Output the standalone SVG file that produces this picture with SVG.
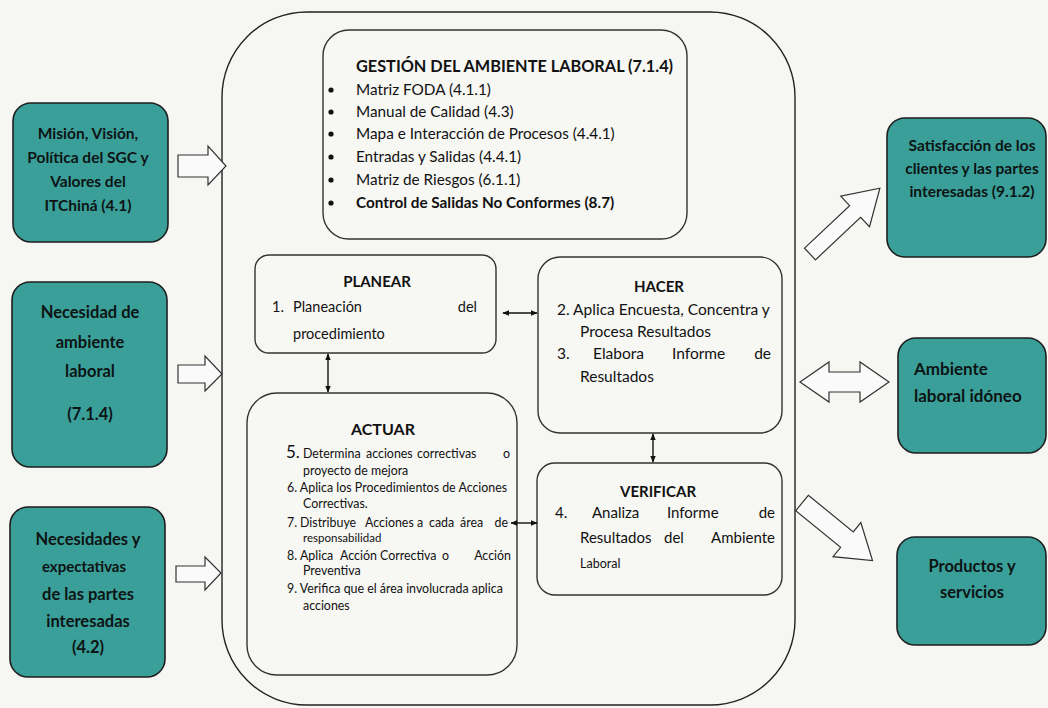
<svg xmlns="http://www.w3.org/2000/svg" width="1048" height="708" viewBox="0 0 1048 708">
<defs>
<style>
.bg{fill:#f6f6f3}
.teal{fill:#3b9f99;stroke:#1e1e1e;stroke-width:1.6}
.box{fill:#f7f7f4;stroke:#333;stroke-width:1.4}
.outer{fill:none;stroke:#222;stroke-width:1.4}
.blk{fill:#fafafa;stroke:#333;stroke-width:1.2;stroke-linejoin:miter}
.t{font-family:Lato,"Open Sans",sans-serif;fill:#111}
.tb{font-family:Lato,"Open Sans",sans-serif;font-weight:bold;fill:#111}
.tl{font-family:Lato,"Open Sans",sans-serif;font-weight:bold;fill:#0c1414;font-size:15px;text-anchor:middle}
.end{text-anchor:end}
.conn{stroke:#111;stroke-width:1.4;fill:none;marker-start:url(#ah);marker-end:url(#ah)}
</style>
<marker id="ah" viewBox="0 0 10 10" refX="9" refY="5" markerWidth="7" markerHeight="7" markerUnits="userSpaceOnUse" orient="auto-start-reverse">
<path d="M0,1 L10,5 L0,9 Z" fill="#111"/>
</marker>
</defs>
<rect class="bg" x="0" y="0" width="1048" height="708"/>

<g id="outer-frame">
<rect class="outer" x="222" y="12" width="573" height="693" rx="85" ry="85"/>
</g>

<g id="mision">
<rect class="teal" x="13" y="103" width="155" height="139" rx="18"/>
<text class="tl" x="88" style="font-size:15.5px"><tspan x="88" y="139">Misión, Visión,</tspan><tspan x="88" y="163">Política del SGC y</tspan><tspan x="88" y="187">Valores del</tspan><tspan x="88" y="211">ITChiná (4.1)</tspan></text>
</g>
<g id="necesidad">
<rect class="teal" x="12" y="282" width="155" height="185" rx="18"/>
<text class="tl" x="90" style="font-size:16.5px"><tspan x="90" y="318">Necesidad de</tspan><tspan x="90" y="348">ambiente</tspan><tspan x="90" y="377">laboral</tspan><tspan x="90" y="420">(7.1.4)</tspan></text>
</g>
<g id="necesidades">
<rect class="teal" x="10" y="507" width="155" height="170" rx="18"/>
<text class="tl" x="88" style="font-size:16.5px"><tspan x="88" y="545">Necesidades y</tspan><tspan x="84" y="572" font-size="15">expectativas</tspan><tspan x="88" y="600">de las partes</tspan><tspan x="88" y="627">interesadas</tspan><tspan x="88" y="653">(4.2)</tspan></text>
</g>

<g id="satisfaccion">
<rect class="teal" x="887" y="118" width="159" height="139" rx="18"/>
<text class="tl" x="972" style="font-size:15.5px"><tspan x="972" y="151">Satisfacción de los</tspan><tspan x="972" y="174">clientes y las partes</tspan><tspan x="972" y="197">interesadas (9.1.2)</tspan></text>
</g>
<g id="ambiente">
<rect class="teal" x="898" y="338" width="148" height="115" rx="18"/>
<text class="tl" style="text-anchor:start;font-size:17px"><tspan x="914" y="375">Ambiente</tspan><tspan x="914" y="402">laboral idóneo</tspan></text>
</g>
<g id="productos">
<rect class="teal" x="897" y="537" width="149" height="108" rx="18"/>
<text class="tl" style="font-size:16.5px"><tspan x="972" y="572">Productos y</tspan><tspan x="972" y="598">servicios</tspan></text>
</g>

<g id="gestion">
<rect class="box" x="323" y="30" width="364" height="209" rx="26"/>
<text class="tb" x="356" y="72" font-size="16.3">GESTIÓN DEL AMBIENTE LABORAL (7.1.4)</text>
<g fill="#111">
<circle cx="331" cy="90" r="2.6"/><circle cx="331" cy="112" r="2.6"/><circle cx="331" cy="134" r="2.6"/><circle cx="331" cy="157" r="2.6"/><circle cx="331" cy="180" r="2.6"/><circle cx="331" cy="203" r="2.6"/>
</g>
<text class="t" font-size="15.3"><tspan x="356" y="95">Matriz FODA (4.1.1)</tspan><tspan x="356" y="117">Manual de Calidad (4.3)</tspan><tspan x="356" y="139">Mapa e Interacción de Procesos (4.4.1)</tspan><tspan x="356" y="162">Entradas y Salidas (4.4.1)</tspan><tspan x="356" y="185">Matriz de Riesgos (6.1.1)</tspan><tspan x="356" y="208" font-weight="bold">Control de Salidas No Conformes (8.7)</tspan></text>
</g>

<g id="planear">
<rect class="box" x="255" y="255" width="241" height="98" rx="14"/>
<text class="tb" x="377" y="287" font-size="15" text-anchor="middle">PLANEAR</text>
<text class="t" font-size="14.5"><tspan x="272" y="312">1.</tspan><tspan x="293" y="312">Planeación</tspan><tspan x="293" y="339">procedimiento</tspan></text>
<text class="t end" font-size="14.5" x="477" y="312">del</text>
</g>

<g id="hacer">
<rect class="box" x="538" y="257" width="244" height="176" rx="22"/>
<text class="tb" x="659" y="292" font-size="15" text-anchor="middle">HACER</text>
<text class="t" font-size="15.5"><tspan x="557" y="315">2. Aplica Encuesta, Concentra y</tspan><tspan x="580" y="337">Procesa Resultados</tspan><tspan x="557" y="359">3.</tspan><tspan x="593" y="359">Elabora</tspan><tspan x="672" y="359">Informe</tspan><tspan x="580" y="382">Resultados</tspan></text>
<text class="t end" font-size="15.5" x="771" y="359">de</text>
</g>

<g id="actuar">
<rect class="box" x="247" y="393" width="270" height="282" rx="30"/>
<text class="tb" x="383" y="435" font-size="16" text-anchor="middle">ACTUAR</text>
<text class="t" font-size="12.4">
<tspan x="286" y="458" font-size="17">5.</tspan><tspan x="303" y="458">Determina</tspan><tspan x="366" y="458">acciones</tspan><tspan x="417" y="458">correctivas</tspan>
<tspan x="303" y="475">proyecto de mejora</tspan>
<tspan x="287" y="492">6. Aplica los Procedimientos de Acciones</tspan>
<tspan x="303" y="508">Correctivas.</tspan>
<tspan x="287" y="527">7.</tspan><tspan x="300" y="527">Distribuye</tspan><tspan x="365" y="527">Acciones</tspan><tspan x="417" y="527">a</tspan><tspan x="429" y="527">cada</tspan><tspan x="460" y="527">área</tspan>
<tspan x="303" y="542" font-size="11.5">responsabilidad</tspan>
<tspan x="287" y="560">8.</tspan><tspan x="300" y="560">Aplica</tspan><tspan x="340" y="560">Acción</tspan><tspan x="380" y="560">Correctiva</tspan><tspan x="442" y="560">o</tspan>
<tspan x="303" y="575">Preventiva</tspan>
<tspan x="287" y="593">9. Verifica que el área involucrada aplica</tspan>
<tspan x="303" y="610">acciones</tspan>
</text>
<text class="t end" font-size="12.4"><tspan x="510" y="458">o</tspan><tspan x="508" y="527">de</tspan><tspan x="511" y="560">Acción</tspan></text>
</g>

<g id="verificar">
<rect class="box" x="537" y="463" width="245" height="132" rx="18"/>
<text class="tb" x="658" y="497" font-size="15" text-anchor="middle">VERIFICAR</text>
<text class="t" font-size="15"><tspan x="555" y="518">4.</tspan><tspan x="592" y="518">Analiza</tspan><tspan x="667" y="518">Informe</tspan><tspan x="580" y="543">Resultados</tspan><tspan x="664" y="543">del</tspan><tspan x="580" y="568" font-size="12.5">Laboral</tspan></text>
<text class="t end" font-size="15"><tspan x="775" y="518">de</tspan><tspan x="775" y="543">Ambiente</tspan></text>
</g>

<g id="connectors">
<line class="conn" x1="503" y1="313" x2="537" y2="313"/>
<line class="conn" x1="328" y1="354" x2="328" y2="392"/>
<line class="conn" x1="653" y1="434" x2="653" y2="462"/>
<line class="conn" x1="511" y1="523" x2="537" y2="523"/>
<polygon class="blk" points="178,155 208,155 208,146 226,166 208,185 208,177 178,177"/>
<polygon class="blk" points="178,365 205,365 205,356 222,374 205,391 205,383 178,383"/>
<polygon class="blk" points="176,566 205,566 205,557 221,573 205,590 205,582 176,582"/>
<polygon class="blk" points="800,382 829,362 829,372 860,372 860,362 889,382 860,402 860,392 829,392 829,402"/>
<polygon class="blk" transform="translate(810,254) rotate(-43.3)" points="0,-8 62,-8 62,-21 96,0 62,21 62,8 0,8"/>
<polygon class="blk" transform="translate(802,503) rotate(39.2)" points="0,-10 58,-10 58,-22 91,0 58,22 58,10 0,10"/>
</g>
</svg>
